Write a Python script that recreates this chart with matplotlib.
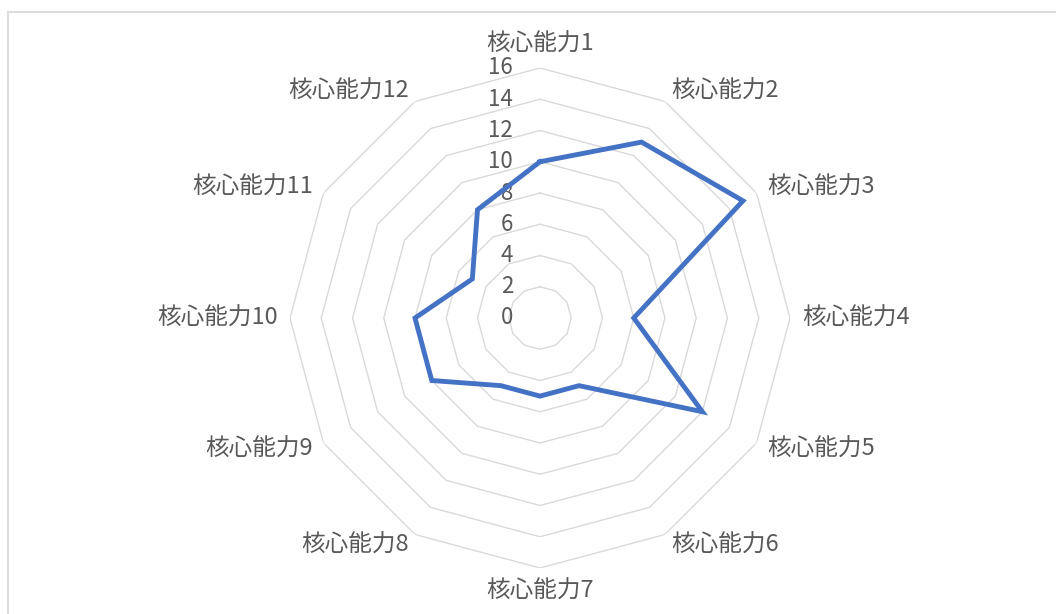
import numpy as np
import matplotlib
matplotlib.use('Agg')
import matplotlib.pyplot as plt
from matplotlib.patches import Rectangle

plt.rcParams['font.family'] = ['Noto Sans CJK JP', 'DejaVu Sans']

categories = ['核心能力1', '核心能力2', '核心能力3', '核心能力4', '核心能力5', '核心能力6',
              '核心能力7', '核心能力8', '核心能力9', '核心能力10', '核心能力11', '核心能力12']
values = [10, 13, 15, 6, 12, 5, 5, 5, 8, 8, 5, 8]
ring_levels = [2, 4, 6, 8, 10, 12, 14, 16]
tick_labels = ['0', '2', '4', '6', '8', '10', '12', '14', '16']

text_color = '#595959'
grid_color = '#D9D9D9'
line_color = '#4472C4'

W, H = 1056, 614
fig = plt.figure(figsize=(W / 100, H / 100), dpi=100)

# chart area border (runs off the right and bottom edge)
fig.patches.append(Rectangle((8 / W, -0.1), 1.2, 1 - 12 / H + 0.1, transform=fig.transFigure,
                             fill=False, edgecolor=grid_color, lw=1.3))

cx, cy, R = 540, 318, 250
ax = fig.add_axes([(cx - R) / W, (H - cy - R) / H, 2 * R / W, 2 * R / H], projection='polar')
ax.set_theta_zero_location('N')
ax.set_theta_direction(-1)
ax.set_ylim(0, 16)
ax.grid(False)
ax.spines['polar'].set_visible(False)
ax.set_xticks([])
ax.set_yticks([])
ax.patch.set_alpha(0)

n = len(categories)
theta = np.linspace(0, 2 * np.pi, n, endpoint=False)
theta_c = np.append(theta, theta[0])

# polygon grid
for lv in ring_levels:
    ax.plot(theta_c, [lv] * (n + 1), color=grid_color, lw=1.0, zorder=1)

# data line
vals_c = values + values[:1]
ax.plot(theta_c, vals_c, color=line_color, lw=3.5, zorder=3, solid_joinstyle='miter')

# radial tick labels, right aligned left of the top axis
for i, lab in enumerate(tick_labels):
    ax.annotate(lab, xy=(0, i * 2), xytext=(-27, 0), textcoords='offset pixels',
                ha='right', va='center', fontsize=16, color=text_color, zorder=2)

# category labels
for t, lab in zip(theta, categories):
    s, c = np.sin(t), np.cos(t)
    ha = 'left' if s > 0.1 else ('right' if s < -0.1 else 'center')
    va = 'bottom' if c > 0.9 else ('top' if c < -0.9 else 'center')
    off = 12
    ax.annotate(lab, xy=(t, 16), xytext=(off * s, off * c), textcoords='offset pixels',
                ha=ha, va=va, fontsize=17, color=text_color, annotation_clip=False)

fig.savefig('out.png', dpi=100)
